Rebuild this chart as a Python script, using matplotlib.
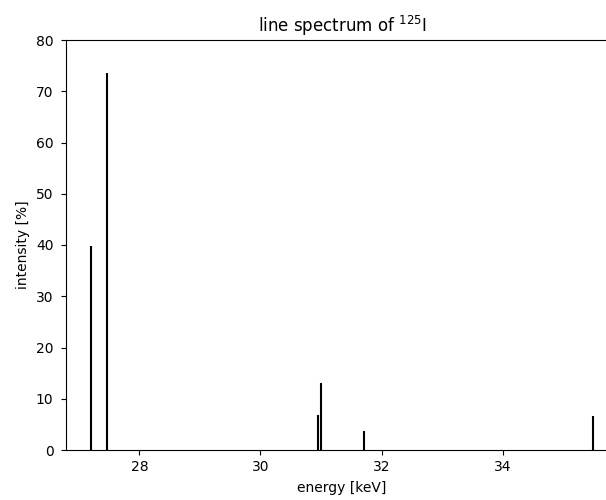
import matplotlib
matplotlib.use("Agg")
import matplotlib.pyplot as plt

# I-125 Linien (Energie in keV, Intensitaet in %)
energies = [27.202, 27.472, 30.944, 30.995, 31.704, 35.492]
intensities = [39.8, 73.5, 6.8, 13.1, 3.8, 6.7]

fig = plt.figure(figsize=(6.06, 5.00), dpi=100)
ax = fig.add_axes([66 / 606, 0.10, 552 / 606, 0.82])

ax.vlines(energies, 0, intensities, colors='black', linewidth=1.5)
ax.set_ylim(0, 80)
ax.tick_params(axis='y', pad=5.5)
ax.set_title("line spectrum of $^{125}$I")
ax.set_xlabel("energy [keV]", labelpad=5)
ax.set_ylabel("intensity [%]")

fig.savefig("out.png", dpi=100)
